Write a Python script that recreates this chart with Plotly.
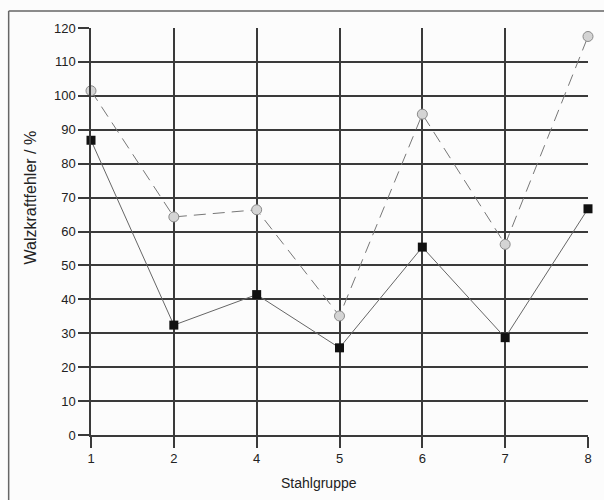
import plotly.graph_objects as go

stahlgruppe = ["1", "2", "4", "5", "6", "7", "8"]
fehler_kreis = [101.5, 64.3, 66.4, 35.1, 94.6, 56.2, 117.5]
fehler_quadrat = [86.9, 32.4, 41.4, 25.7, 55.4, 28.7, 66.7]
y_ticks = list(range(0, 121, 10))

W, H = 604, 500
L, R, T, B = 91, 12, 28, 65
pw, ph = W - L - R, H - T - B

fig = go.Figure()
fig.add_trace(go.Scatter(
    x=stahlgruppe, y=fehler_kreis, mode="lines+markers",
    line=dict(color="#777777", width=1, dash="12px,7px"),
    marker=dict(symbol="circle", size=10, color="#d4d4d4", line=dict(color="#8a8a8a", width=1)),
    showlegend=False, cliponaxis=False,
))
fig.add_trace(go.Scatter(
    x=stahlgruppe, y=fehler_quadrat, mode="lines+markers",
    line=dict(color="#666666", width=1),
    marker=dict(symbol="square", size=9, color="#111111", line=dict(color="#111111", width=0)),
    showlegend=False, cliponaxis=False,
))

font = dict(family="Liberation Sans, Arial, sans-serif", size=13, color="#222222")
fig.update_layout(
    width=W, height=H,
    margin=dict(l=L, r=R, t=T, b=B),
    paper_bgcolor="#fcfcfc", plot_bgcolor="#fcfcfc",
    font=font,
    xaxis=dict(
        type="category", categoryorder="array", categoryarray=stahlgruppe,
        range=[0, len(stahlgruppe) - 1],
        showgrid=True, gridcolor="#3a3a3a", gridwidth=1.5,
        showline=True, linecolor="#3a3a3a", linewidth=1.5,
        ticks="outside", ticklen=11, tickcolor="#3a3a3a", tickwidth=1.5,
        zeroline=False, fixedrange=True,
    ),
    yaxis=dict(
        range=[0, 120], tickvals=y_ticks,
        showgrid=True, gridcolor="#3a3a3a", gridwidth=1.5,
        showline=True, linecolor="#3a3a3a", linewidth=1.5,
        ticks="outside", ticklen=11, tickcolor="#3a3a3a", tickwidth=1.5,
        zeroline=False, fixedrange=True,
    ),
)

# axis titles placed as in the reference
fig.add_annotation(text="Stahlgruppe", xref="paper", yref="paper",
                   x=(321 - L) / pw, y=(H - B - 483) / ph,
                   xanchor="center", yanchor="middle", showarrow=False,
                   font=dict(size=14, color="#222222"))
fig.add_annotation(text="Walzkraftfehler / %", xref="paper", yref="paper",
                   x=(30 - L) / pw, y=(H - B - 197) / ph, textangle=-90,
                   xanchor="center", yanchor="middle", showarrow=False,
                   font=dict(size=16, color="#222222"))

# outer frame (left and top edges visible)
x0 = (8 - L) / pw
yt = (H - B - 11) / ph
fig.add_shape(type="line", xref="paper", yref="paper", x0=x0, x1=x0, y0=-0.2, y1=yt,
              line=dict(color="#666666", width=1.5))
fig.add_shape(type="line", xref="paper", yref="paper", x0=x0, x1=1.1, y0=yt, y1=yt,
              line=dict(color="#666666", width=1.5))

fig.write_html("out.html")
